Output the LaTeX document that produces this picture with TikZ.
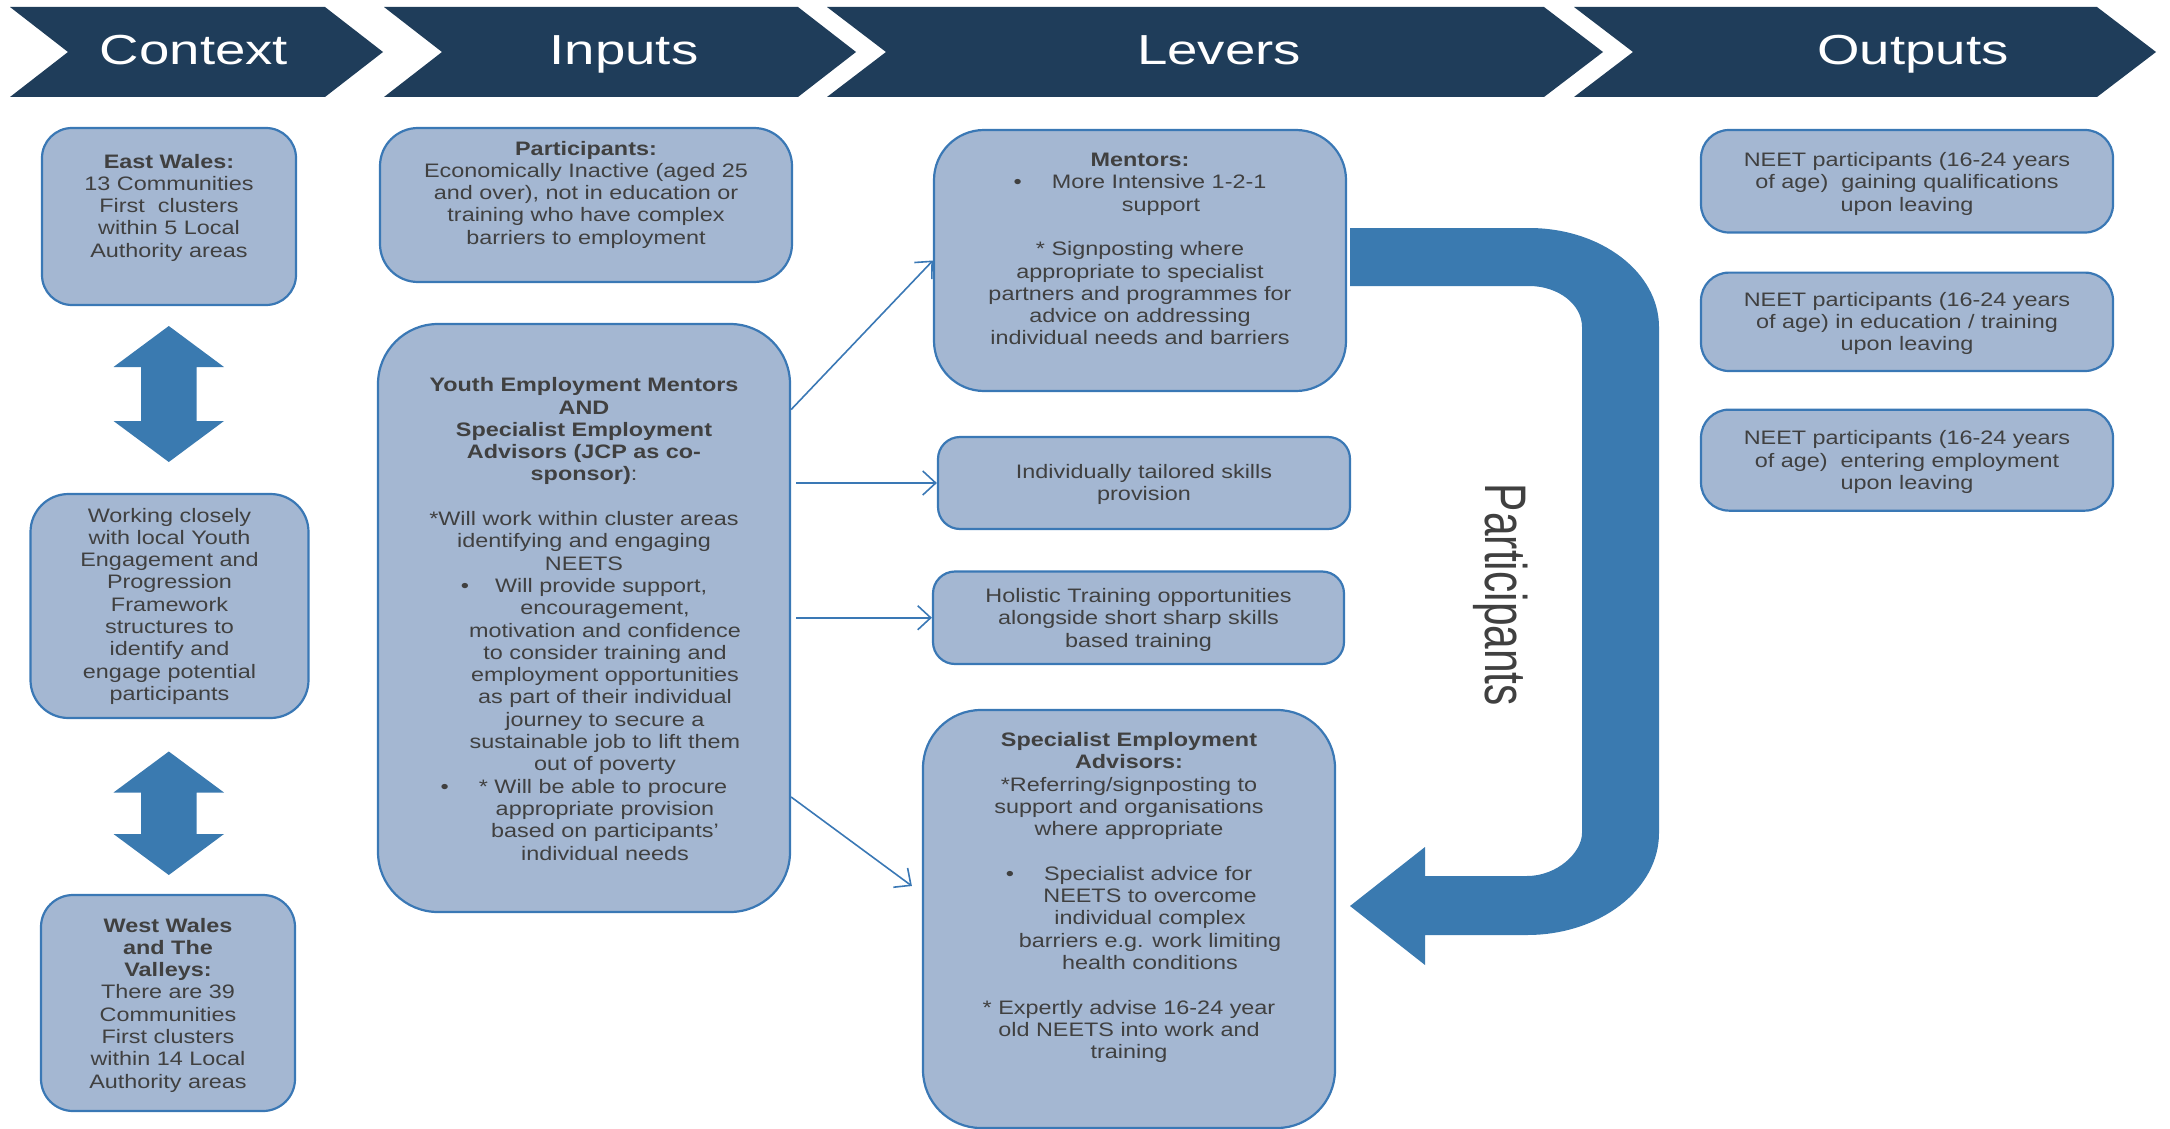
\documentclass[tikz,border=0pt]{standalone}
\usepackage{fontspec}
\usepackage{graphicx}
\setmainfont{Liberation Sans}[FakeStretch=1.2]
\newfontfamily\hdrfont{Liberation Sans}[FakeStretch=1.3]
\newfontfamily\plainfont{Liberation Sans}
\usetikzlibrary{arrows.meta}
\definecolor{hdr}{HTML}{1F3D5A}
\definecolor{boxfill}{HTML}{A4B7D2}
\definecolor{boxline}{HTML}{3A78B5}
\definecolor{bigarrow}{HTML}{3A7AB0}
\definecolor{txtgray}{HTML}{404040}
\newcommand\myind{\hspace*{42pt}}
\begin{document}
\begin{tikzpicture}[x=1pt,y=-1pt,
  box/.style={draw=boxline, fill=boxfill, line width=2.2pt, inner sep=0pt},
  txt/.style={text=txtgray, align=center, inner sep=0pt, anchor=base, font=\fontsize{19.5}{22.3}\selectfont},
  hdrtxt/.style={text=white, anchor=base, inner sep=0pt, font=\hdrfont\fontsize{42}{50}\selectfont},
  conn/.style={draw=boxline, line width=1.6pt, -{Straight Barb[length=13pt,width=24pt,line width=1.6pt]}},
  hdrshape/.style={fill=hdr},
  band/.style={fill=bigarrow}]
\useasboundingbox (0,0) rectangle (2170,1129);

% header chevrons
\fill[hdrshape] (10,7) -- (325,7) -- (383,52) -- (325,97) -- (10,97) -- (68,52) -- cycle;
\fill[hdrshape] (384,7) -- (798,7) -- (856,52) -- (798,97) -- (384,97) -- (442,52) -- cycle;
\fill[hdrshape] (827,7) -- (1544,7) -- (1603,52) -- (1544,97) -- (827,97) -- (886,52) -- cycle;
\fill[hdrshape] (1574,7) -- (2097,7) -- (2156,52) -- (2097,97) -- (1574,97) -- (1633,52) -- cycle;
\node[hdrtxt] (hctx) at (194,65) {Context};
\node[hdrtxt] (hinp) at (624,65) {Inputs};
\node[hdrtxt] (hlev) at (1219,65) {Levers};
\node[hdrtxt] (hout) at (1913,65) {Outputs};

% context column (text nodes are placed by the baseline of their last line)
\node[box, rounded corners=30pt, minimum width=254pt, minimum height=177pt] (ew) at (169,216.5) {};
\node[txt] (ewt) at (169,257.2) {\textbf{East Wales:}\\13 Communities\\First\ \ clusters\\within 5 Local\\Authority areas};
\fill[band] (168.8,326) -- (224,367) -- (196.5,367) -- (196.5,421) -- (224,421) -- (168.8,462) -- (113.5,421) -- (141,421) -- (141,367) -- (113.5,367) -- cycle;
\node[box, rounded corners=38pt, minimum width=278pt, minimum height=224pt] (wk) at (169.5,606) {};
\node[txt] (wkt) at (169.5,700.4) {Working closely\\with local Youth\\Engagement and\\Progression\\Framework\\structures to\\identify and\\engage potential\\participants};
\fill[band] (168.8,751.5) -- (224,792.5) -- (196.5,792.5) -- (196.5,834) -- (224,834) -- (168.8,875) -- (113.5,834) -- (141,834) -- (141,792.5) -- (113.5,792.5) -- cycle;
\node[box, rounded corners=32pt, minimum width=254pt, minimum height=216pt] (ww) at (168,1003) {};
\node[txt] (wwt) at (168,1088.1) {\textbf{West Wales}\\\textbf{and The}\\\textbf{Valleys:}\\There are 39\\Communities\\First clusters\\within 14 Local\\Authority areas};

% inputs column
\node[box, rounded corners=38pt, minimum width=412pt, minimum height=154pt] (par) at (586,205) {};
\node[txt] (part) at (586,244.2) {\textbf{Participants:}\\Economically Inactive (aged 25\\and over), not in education or\\training who have complex\\barriers to employment};
\node[box, rounded corners=60pt, minimum width=412pt, minimum height=588pt] (yem) at (584,618) {};
\node[txt] (yemt) at (584,860) {\textbf{Youth Employment Mentors}\\\textbf{AND}\\\textbf{Specialist Employment}\\\textbf{Advisors (JCP as co-}\\\textbf{sponsor)}:\\[22.3pt]*Will work within cluster areas\\identifying and engaging\\NEETS\\
•\hspace{26pt}Will provide support,\\\myind encouragement,\\\myind motivation and confidence\\\myind to consider training and\\\myind employment opportunities\\\myind as part of their individual\\\myind journey to secure a\\\myind sustainable job to lift them\\\myind out of poverty\\
•\hspace{30pt}* Will be able to procure\\\myind appropriate provision\\\myind based on participants’\\\myind individual needs};

% levers column
\node[box, rounded corners=50pt, minimum width=412pt, minimum height=261pt] (men) at (1140,260.5) {};
\node[txt] (ment) at (1140,344.9) {\textbf{Mentors:}\\•\hspace{30pt}More Intensive 1-2-1\\\myind support\\[22.3pt]* Signposting where\\appropriate to specialist\\partners and programmes for\\advice on addressing\\individual needs and barriers};
\node[box, rounded corners=22pt, minimum width=412pt, minimum height=92pt] (ind) at (1144,483) {};
\node[txt] (indt) at (1144,500.3) {Individually tailored skills\\provision};
\node[box, rounded corners=22pt, minimum width=411pt, minimum height=92.5pt] (hol) at (1138.5,617.75) {};
\node[txt] (holt) at (1138.5,647.1) {Holistic Training opportunities\\alongside short sharp skills\\based training};
\node[box, rounded corners=58pt, minimum width=412pt, minimum height=418pt] (sea) at (1129,919) {};
\node[txt] (seat) at (1129,1058.6) {\textbf{Specialist Employment}\\\textbf{Advisors:}\\*Referring/signposting to\\support and organisations\\where appropriate\\[22.3pt]•\hspace{30pt}Specialist advice for\\\myind NEETS to overcome\\\myind individual complex\\\myind barriers e.g. work limiting\\\myind health conditions\\[22.3pt]* Expertly advise 16-24 year\\old NEETS into work and\\training};

% outputs column
\node[box, rounded corners=28pt, minimum width=412pt, minimum height=102.5pt] (o1) at (1907,181.25) {};
\node[txt] (o1t) at (1907,211.1) {NEET participants (16-24 years\\of age)\ \ gaining qualifications\\upon leaving};
\node[box, rounded corners=28pt, minimum width=412pt, minimum height=98.4pt] (o2) at (1907,321.8) {};
\node[txt] (o2t) at (1907,350.6) {NEET participants (16-24 years\\of age) in education / training\\upon leaving};
\node[box, rounded corners=28pt, minimum width=412pt, minimum height=101pt] (o3) at (1907,460.15) {};
\node[txt] (o3t) at (1907,489.3) {NEET participants (16-24 years\\of age)\ \ entering employment\\upon leaving};

% connectors
\draw[conn] ([yshift=208.4pt]yem.east) -- (men.west);
\draw[conn, shorten <=5pt] (yem.east |- ind.west) -- (ind.west);
\draw[conn, shorten <=5pt] (yem.east |- hol.west) -- (hol.west);
\draw[conn] ([yshift=-179pt]yem.east) -- ([xshift=-10pt,yshift=33pt]sea.west);

% big U arrow
\fill[band] (1350,228) -- (1529,228) .. controls (1600.8,228) and (1659,272.3) .. (1659,327)
  -- (1659,833) .. controls (1659,889.3) and (1599.9,935) .. (1527,935)
  -- (1425,935) -- (1425,965) -- (1350,906) -- (1425,847) -- (1425,876)
  -- (1527,876) .. controls (1557.4,876) and (1582,852.3) .. (1582,833)
  -- (1582,327) .. controls (1582,304.4) and (1558.3,286) .. (1529,286)
  -- (1350,286) -- cycle;
\node[text=txtgray, rotate=-90, inner sep=0pt] (ptx) at (1501,595) {\plainfont\fontsize{42.5}{50}\selectfont\scalebox{1}[1.38]{Participants}};
\end{tikzpicture}
\end{document}
